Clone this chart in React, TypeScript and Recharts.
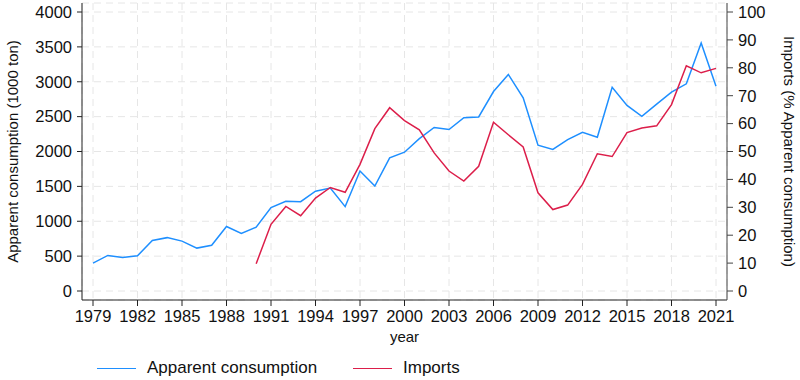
import { CartesianGrid, Legend, Line, LineChart, XAxis, YAxis } from 'recharts';

const years = [
  1979, 1980, 1981, 1982, 1983, 1984, 1985, 1986, 1987, 1988, 1989, 1990, 1991, 1992, 1993,
  1994, 1995, 1996, 1997, 1998, 1999, 2000, 2001, 2002, 2003, 2004, 2005, 2006, 2007, 2008,
  2009, 2010, 2011, 2012, 2013, 2014, 2015, 2016, 2017, 2018, 2019, 2020, 2021,
];

// 1000 ton
const consumption = [
  400, 510, 480, 505, 725, 765, 715, 615, 655, 925, 825, 915, 1195, 1285, 1280, 1430, 1475,
  1210, 1720, 1505, 1910, 1990, 2185, 2345, 2315, 2485, 2495, 2860, 3105, 2770, 2090, 2030,
  2170, 2275, 2205, 2920, 2660, 2505, 2680, 2850, 2970, 3555, 2935,
];

// % of apparent consumption, no data before 1990
const imports = [
  null, null, null, null, null, null, null, null, null, null, null,
  9.8, 23.9, 30.3, 27, 33.3, 37.1, 35.4, 45.4, 58.2, 65.7, 61.1, 57.8, 49.5, 43, 39.4, 44.7,
  60.5, 56, 51.6, 35.2, 29.2, 30.8, 38.2, 49.2, 48.2, 56.8, 58.4, 59.2, 66.8, 80.7, 78.2, 79.8,
];

const xTicks = [1979, 1982, 1985, 1988, 1991, 1994, 1997, 2000, 2003, 2006, 2009, 2012, 2015, 2018, 2021];
const leftTicks = [0, 500, 1000, 1500, 2000, 2500, 3000, 3500, 4000];
const rightTicks = [0, 10, 20, 30, 40, 50, 60, 70, 80, 90, 100];

const data = years.map((year, i) => ({ year, consumption: consumption[i], imports: imports[i] }));

const BLUE = '#1e8fff';
const RED = '#dc1e4a';
const FONT = '"Liberation Sans", Arial, sans-serif';
const tick = { fontSize: 16.5, fill: '#111', fontFamily: FONT };

function LegendBox() {
  const item = (color: string, text: string, width: number) => (
    <div style={{ display: 'flex', alignItems: 'center', width }}>
      <div style={{ width: 39, height: 0, borderTop: `1.5px solid ${color}`, marginRight: 11 }} />
      <span style={{ fontSize: 17, color: '#111', fontFamily: FONT }}>{text}</span>
    </div>
  );
  return (
    <div style={{ height: 30, display: 'flex', alignItems: 'center', paddingTop: 6, paddingLeft: 97, boxSizing: 'border-box' }}>
      {item(BLUE, 'Apparent consumption', 256)}
      {item(RED, 'Imports', 150)}
    </div>
  );
}

export default function App() {
  return (
    <div style={{ position: 'absolute', left: 0, top: 0, width: 800, height: 380, background: '#fff' }}>
      <LineChart width={800} height={380} data={data} margin={{ top: 3, right: 0, left: 0, bottom: 0 }}>
        <CartesianGrid yAxisId="left" stroke="#e6e6e6" strokeDasharray="7 5" />
        <XAxis
          dataKey="year"
          type="number"
          domain={[1979, 2021]}
          ticks={xTicks}
          padding={{ left: 11, right: 11 }}
          height={50}
          tick={tick}
          tickSize={6}
          tickMargin={4}
          stroke="#222"
          interval={0}
          label={{ value: 'year', position: 'insideBottom', offset: 8, fontSize: 15, fill: '#111', fontFamily: FONT }}
        />
        <YAxis
          yAxisId="left"
          domain={[0, 4000]}
          ticks={leftTicks}
          padding={{ top: 9, bottom: 9 }}
          width={82}
          tick={tick}
          tickSize={5}
          tickMargin={5}
          stroke="#222"
          interval={0}
          label={{
            value: 'Apparent consumption (1000 ton)',
            angle: -90,
            position: 'insideLeft',
            offset: 13,
            style: { textAnchor: 'middle' },
            fontSize: 15,
            fill: '#111',
            fontFamily: FONT,
          }}
        />
        <YAxis
          yAxisId="right"
          orientation="right"
          domain={[0, 100]}
          ticks={rightTicks}
          padding={{ top: 9, bottom: 9 }}
          width={73}
          tick={tick}
          tickSize={6}
          tickMargin={5}
          stroke="#444"
          interval={0}
          label={{
            value: 'Imports (% Apparent consumption)',
            angle: 90,
            position: 'insideRight',
            offset: 11,
            style: { textAnchor: 'middle' },
            fontSize: 15,
            fill: '#111',
            fontFamily: FONT,
          }}
        />
        <Legend verticalAlign="bottom" content={() => <LegendBox />} wrapperStyle={{ left: 0, width: 800 }} />
        <Line
          yAxisId="left"
          type="linear"
          dataKey="consumption"
          stroke={BLUE}
          strokeWidth={1.5}
          dot={false}
          isAnimationActive={false}
        />
        <Line
          yAxisId="right"
          type="linear"
          dataKey="imports"
          stroke={RED}
          strokeWidth={1.5}
          dot={false}
          isAnimationActive={false}
        />
      </LineChart>
    </div>
  );
}
